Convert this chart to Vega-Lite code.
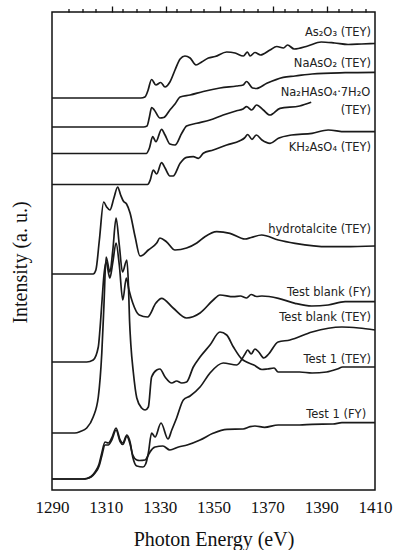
{
  "$schema": "https://vega.github.io/schema/vega-lite/v6.json",
  "width": 323,
  "height": 478,
  "autosize": {"type": "none"},
  "padding": {"left": 52, "top": 12, "right": 18, "bottom": 60},
  "background": "white",
  "config": {
    "view": {"stroke": "#111", "strokeWidth": 1.5},
    "axis": {"grid": false, "domain": false, "tickColor": "#111", "tickWidth": 1.3, "labelColor": "#111", "titleColor": "#111"}
  },
  "datasets": {
    "curves": [
      {"s":"A","e":1290,"v":392},{"s":"A","e":1323,"v":392},{"s":"A","e":1324.5,"v":393},{"s":"A","e":1325.6,"v":399},{"s":"A","e":1327,"v":410.5},{"s":"A","e":1328.6,"v":405},{"s":"A","e":1330.4,"v":407.5},{"s":"A","e":1332,"v":403},{"s":"A","e":1333.8,"v":408},{"s":"A","e":1335.7,"v":420},{"s":"A","e":1337.6,"v":431},{"s":"A","e":1339.4,"v":434},{"s":"A","e":1341.3,"v":432},{"s":"A","e":1343.5,"v":425},{"s":"A","e":1345.6,"v":428},{"s":"A","e":1348.1,"v":432},{"s":"A","e":1350.6,"v":433.5},{"s":"A","e":1354.9,"v":438},{"s":"A","e":1358,"v":437},{"s":"A","e":1361.1,"v":434},{"s":"A","e":1362.6,"v":438},{"s":"A","e":1363.6,"v":434},{"s":"A","e":1365.4,"v":437.5},{"s":"A","e":1367.5,"v":435},{"s":"A","e":1371,"v":440},{"s":"A","e":1373.5,"v":443.5},{"s":"A","e":1376,"v":442},{"s":"A","e":1377.5,"v":445},{"s":"A","e":1380,"v":441},{"s":"A","e":1385,"v":444},{"s":"A","e":1390,"v":448},{"s":"A","e":1395,"v":447},{"s":"A","e":1400,"v":445.5},{"s":"A","e":1405,"v":446},{"s":"A","e":1410,"v":446.5},
      {"s":"B","e":1290,"v":363},{"s":"B","e":1324,"v":363},{"s":"B","e":1325.3,"v":364},{"s":"B","e":1326.2,"v":373},{"s":"B","e":1327,"v":382.5},{"s":"B","e":1328,"v":380},{"s":"B","e":1330.1,"v":372},{"s":"B","e":1331.5,"v":372.5},{"s":"B","e":1333.8,"v":380},{"s":"B","e":1335.7,"v":386},{"s":"B","e":1337.6,"v":393},{"s":"B","e":1341.3,"v":395},{"s":"B","e":1346.2,"v":398.5},{"s":"B","e":1352.4,"v":402},{"s":"B","e":1358.6,"v":404},{"s":"B","e":1361,"v":405},{"s":"B","e":1362.3,"v":408.5},{"s":"B","e":1364.5,"v":402},{"s":"B","e":1366,"v":401.5},{"s":"B","e":1369.8,"v":406.7},{"s":"B","e":1375.9,"v":412.7},{"s":"B","e":1380.3,"v":414},{"s":"B","e":1386.6,"v":416},{"s":"B","e":1398.9,"v":417.3},{"s":"B","e":1410,"v":417.7},
      {"s":"C","e":1290,"v":336.5},{"s":"C","e":1325,"v":336.5},{"s":"C","e":1326.2,"v":342},{"s":"C","e":1327.4,"v":353.3},{"s":"C","e":1328.6,"v":348.3},{"s":"C","e":1330.7,"v":360.7},{"s":"C","e":1332,"v":355},{"s":"C","e":1333.8,"v":346},{"s":"C","e":1335.7,"v":345},{"s":"C","e":1338.2,"v":356.7},{"s":"C","e":1340,"v":364},{"s":"C","e":1343.8,"v":366.7},{"s":"C","e":1348.7,"v":370},{"s":"C","e":1353.6,"v":375},{"s":"C","e":1358.6,"v":379.3},{"s":"C","e":1361,"v":381},{"s":"C","e":1362.3,"v":383.3},{"s":"C","e":1364.2,"v":380},{"s":"C","e":1366,"v":385},{"s":"C","e":1368.5,"v":380},{"s":"C","e":1371,"v":375},{"s":"C","e":1374.7,"v":381.7},{"s":"C","e":1382,"v":384},{"s":"C","e":1386.3,"v":387.7},
      {"s":"D","e":1290,"v":305.5},{"s":"D","e":1325.5,"v":305.5},{"s":"D","e":1326.5,"v":310},{"s":"D","e":1327.6,"v":320},{"s":"D","e":1328.9,"v":316},{"s":"D","e":1330.7,"v":327.3},{"s":"D","e":1332,"v":322},{"s":"D","e":1333.8,"v":314},{"s":"D","e":1335,"v":314},{"s":"D","e":1337.6,"v":326.7},{"s":"D","e":1340,"v":332.7},{"s":"D","e":1342.5,"v":333.3},{"s":"D","e":1344.4,"v":331.7},{"s":"D","e":1346.2,"v":336.7},{"s":"D","e":1349.9,"v":340},{"s":"D","e":1354.9,"v":345},{"s":"D","e":1359.8,"v":349.3},{"s":"D","e":1361.5,"v":352},{"s":"D","e":1362.7,"v":355.5},{"s":"D","e":1364.3,"v":350.7},{"s":"D","e":1365.9,"v":355},{"s":"D","e":1368,"v":350},{"s":"D","e":1371,"v":346.7},{"s":"D","e":1374.1,"v":351.7},{"s":"D","e":1379,"v":355},{"s":"D","e":1386.6,"v":356.7},{"s":"D","e":1392.6,"v":360},{"s":"D","e":1398.9,"v":358.3},{"s":"D","e":1410,"v":358.3},
      {"s":"E","e":1290,"v":216},{"s":"E","e":1305.3,"v":216},{"s":"E","e":1306.3,"v":220},{"s":"E","e":1307.6,"v":250},{"s":"E","e":1309.2,"v":288},{"s":"E","e":1310.3,"v":283},{"s":"E","e":1311.5,"v":280},{"s":"E","e":1313,"v":292},{"s":"E","e":1314.4,"v":303},{"s":"E","e":1315.5,"v":295},{"s":"E","e":1316.5,"v":289},{"s":"E","e":1317.7,"v":286},{"s":"E","e":1319,"v":277},{"s":"E","e":1320.9,"v":253},{"s":"E","e":1322.7,"v":234},{"s":"E","e":1323.5,"v":234.5},{"s":"E","e":1325.8,"v":240},{"s":"E","e":1328.9,"v":247},{"s":"E","e":1330.1,"v":252},{"s":"E","e":1332.5,"v":248.3},{"s":"E","e":1335.7,"v":240},{"s":"E","e":1340,"v":242},{"s":"E","e":1343.8,"v":247},{"s":"E","e":1346.8,"v":253.3},{"s":"E","e":1351.2,"v":258.3},{"s":"E","e":1356.1,"v":256.7},{"s":"E","e":1361.7,"v":251},{"s":"E","e":1364,"v":252.5},{"s":"E","e":1367.9,"v":255},{"s":"E","e":1374.1,"v":250},{"s":"E","e":1380.3,"v":246.7},{"s":"E","e":1392.6,"v":243.3},{"s":"E","e":1398.9,"v":243.3},{"s":"E","e":1410,"v":244},
      {"s":"F","e":1290,"v":128},{"s":"F","e":1302.9,"v":128},{"s":"F","e":1305.3,"v":130},{"s":"F","e":1307.2,"v":143},{"s":"F","e":1307.8,"v":160},{"s":"F","e":1308.6,"v":190},{"s":"F","e":1309.3,"v":215},{"s":"F","e":1310.1,"v":228},{"s":"F","e":1311.5,"v":212},{"s":"F","e":1312.6,"v":228},{"s":"F","e":1313.8,"v":247},{"s":"F","e":1315,"v":225},{"s":"F","e":1316.3,"v":190},{"s":"F","e":1317.6,"v":212},{"s":"F","e":1318.6,"v":200},{"s":"F","e":1320,"v":187},{"s":"F","e":1322.4,"v":175},{"s":"F","e":1325.5,"v":173},{"s":"F","e":1328.6,"v":187},{"s":"F","e":1330.7,"v":191.7},{"s":"F","e":1335,"v":182},{"s":"F","e":1340,"v":172},{"s":"F","e":1345,"v":177},{"s":"F","e":1349.9,"v":190},{"s":"F","e":1352.4,"v":195},{"s":"F","e":1357.4,"v":193.3},{"s":"F","e":1360,"v":194},{"s":"F","e":1362.3,"v":192},{"s":"F","e":1364,"v":195.5},{"s":"F","e":1366,"v":193.5},{"s":"F","e":1368,"v":194},{"s":"F","e":1374.1,"v":191.7},{"s":"F","e":1380.3,"v":186.7},{"s":"F","e":1386.5,"v":184},{"s":"F","e":1392.6,"v":185},{"s":"F","e":1398.9,"v":188.3},{"s":"F","e":1410,"v":188.3},
      {"s":"G","e":1290,"v":57},{"s":"G","e":1298.5,"v":57},{"s":"G","e":1300.5,"v":58.5},{"s":"G","e":1302.9,"v":62},{"s":"G","e":1305.3,"v":73},{"s":"G","e":1307.2,"v":93},{"s":"G","e":1308.5,"v":137},{"s":"G","e":1309.3,"v":185},{"s":"G","e":1310.1,"v":233},{"s":"G","e":1311.5,"v":218},{"s":"G","e":1312.6,"v":240},{"s":"G","e":1313.8,"v":272},{"s":"G","e":1315,"v":245},{"s":"G","e":1316.2,"v":218},{"s":"G","e":1317.8,"v":230},{"s":"G","e":1318.4,"v":205},{"s":"G","e":1318.8,"v":170},{"s":"G","e":1319.3,"v":145},{"s":"G","e":1320.2,"v":118},{"s":"G","e":1321.5,"v":92},{"s":"G","e":1323.3,"v":82},{"s":"G","e":1324.6,"v":80},{"s":"G","e":1325.8,"v":83},{"s":"G","e":1327,"v":113},{"s":"G","e":1328.9,"v":120},{"s":"G","e":1330.1,"v":121},{"s":"G","e":1332,"v":113},{"s":"G","e":1334.5,"v":107},{"s":"G","e":1336.3,"v":109},{"s":"G","e":1338.2,"v":107},{"s":"G","e":1340,"v":108},{"s":"G","e":1342.5,"v":123},{"s":"G","e":1345,"v":133},{"s":"G","e":1348.7,"v":145},{"s":"G","e":1352.4,"v":158},{"s":"G","e":1354.9,"v":155},{"s":"G","e":1357.4,"v":143},{"s":"G","e":1360.5,"v":131},{"s":"G","e":1362.3,"v":128},{"s":"G","e":1365,"v":125},{"s":"G","e":1368,"v":120.5},{"s":"G","e":1370,"v":121},{"s":"G","e":1372.5,"v":122},{"s":"G","e":1374,"v":118},{"s":"G","e":1378,"v":118},{"s":"G","e":1382,"v":118},{"s":"G","e":1386.6,"v":117},{"s":"G","e":1392,"v":118},{"s":"G","e":1396,"v":121},{"s":"G","e":1398,"v":123},{"s":"G","e":1410,"v":123},
      {"s":"H","e":1290,"v":11},{"s":"H","e":1301.5,"v":11},{"s":"H","e":1303,"v":11.5},{"s":"H","e":1304.5,"v":13.5},{"s":"H","e":1306,"v":18},{"s":"H","e":1307.5,"v":26},{"s":"H","e":1308.5,"v":37},{"s":"H","e":1309.7,"v":48},{"s":"H","e":1310.9,"v":47},{"s":"H","e":1312.2,"v":52},{"s":"H","e":1313.8,"v":62},{"s":"H","e":1315.3,"v":50},{"s":"H","e":1316.3,"v":47},{"s":"H","e":1317.8,"v":55},{"s":"H","e":1319,"v":48},{"s":"H","e":1320,"v":33},{"s":"H","e":1321.5,"v":24},{"s":"H","e":1323.8,"v":23},{"s":"H","e":1324.8,"v":26},{"s":"H","e":1325.8,"v":37},{"s":"H","e":1327,"v":57},{"s":"H","e":1328.3,"v":53},{"s":"H","e":1330.5,"v":67},{"s":"H","e":1333.1,"v":51},{"s":"H","e":1334.5,"v":60},{"s":"H","e":1336.3,"v":72},{"s":"H","e":1338.8,"v":90},{"s":"H","e":1341.3,"v":94},{"s":"H","e":1345,"v":103},{"s":"H","e":1348.7,"v":117},{"s":"H","e":1353.6,"v":127},{"s":"H","e":1358.6,"v":125},{"s":"H","e":1361.7,"v":136},{"s":"H","e":1362.7,"v":140},{"s":"H","e":1364,"v":136},{"s":"H","e":1365.4,"v":141},{"s":"H","e":1366.8,"v":138},{"s":"H","e":1368.7,"v":132},{"s":"H","e":1370.5,"v":136},{"s":"H","e":1374,"v":148},{"s":"H","e":1378.4,"v":150},{"s":"H","e":1386.6,"v":158},{"s":"H","e":1397.7,"v":163},{"s":"H","e":1404,"v":162},{"s":"H","e":1410,"v":160},
      {"s":"I","e":1290,"v":11},{"s":"I","e":1301.5,"v":11},{"s":"I","e":1303,"v":11.5},{"s":"I","e":1304.5,"v":13},{"s":"I","e":1306,"v":17},{"s":"I","e":1307.5,"v":24},{"s":"I","e":1308.5,"v":34},{"s":"I","e":1309.7,"v":45},{"s":"I","e":1310.9,"v":45},{"s":"I","e":1312.2,"v":50},{"s":"I","e":1313.8,"v":60},{"s":"I","e":1315.3,"v":48.5},{"s":"I","e":1316.3,"v":45.5},{"s":"I","e":1317.8,"v":53.5},{"s":"I","e":1319,"v":46},{"s":"I","e":1320,"v":35},{"s":"I","e":1321.5,"v":30},{"s":"I","e":1322.5,"v":29.5},{"s":"I","e":1324.6,"v":30},{"s":"I","e":1325.8,"v":35},{"s":"I","e":1326.4,"v":38},{"s":"I","e":1328.3,"v":43},{"s":"I","e":1331.2,"v":44},{"s":"I","e":1333.8,"v":40},{"s":"I","e":1337,"v":43},{"s":"I","e":1340.2,"v":45},{"s":"I","e":1345,"v":50},{"s":"I","e":1349.8,"v":56.7},{"s":"I","e":1355,"v":60.7},{"s":"I","e":1361,"v":61},{"s":"I","e":1363.6,"v":63.3},{"s":"I","e":1365.4,"v":64},{"s":"I","e":1369,"v":62.7},{"s":"I","e":1374,"v":65},{"s":"I","e":1382,"v":65},{"s":"I","e":1386.6,"v":65.7},{"s":"I","e":1394.4,"v":66},{"s":"I","e":1397.7,"v":67.3},{"s":"I","e":1410,"v":67.3}
    ],
    "labels": [
      {"t":"As₂O₃ (TEY)","e":1408.5,"v":457},
      {"t":"NaAsO₂ (TEY)","e":1408.5,"v":426},
      {"t":"Na₂HAsO₄·7H₂O","e":1408.3,"v":397.5},
      {"t":"(TEY)","e":1408.5,"v":379},
      {"t":"KH₂AsO₄ (TEY)","e":1408.5,"v":342},
      {"t":"hydrotalcite (TEY)","e":1408.5,"v":260},
      {"t":"Test blank (FY)","e":1408.5,"v":197},
      {"t":"Test blank (TEY)","e":1408.5,"v":172.5},
      {"t":"Test 1 (TEY)","e":1408.5,"v":130.5},
      {"t":"Test 1 (FY)","e":1406.7,"v":75}
    ]
  },
  "layer": [
    {
      "data": {"name": "curves"},
      "mark": {"type": "line", "color": "#1a1a1a", "strokeWidth": 1.7, "interpolate": "monotone"},
      "encoding": {
        "x": {"field": "e", "type": "quantitative", "scale": {"domain": [1290, 1410], "nice": false, "zero": false},
          "axis": {"orient": "bottom", "values": [1290, 1310, 1330, 1350, 1370, 1390, 1410], "format": "d", "ticks": false, "tickSize": 0, "labelPadding": 9, "labelFont": "Liberation Serif", "labelFontSize": 17, "labelFlush": false,
            "title": "Photon Energy  (eV)", "titleFont": "Liberation Serif", "titleFontSize": 20, "titleFontWeight": "normal", "titleY": 55, "titleBaseline": "alphabetic"}},
        "y": {"field": "v", "type": "quantitative", "scale": {"domain": [0, 478], "nice": false, "zero": false},
          "axis": {"orient": "left", "labels": false, "ticks": false, "tickSize": 0, "title": "Intensity  (a. u.)", "titleFont": "Liberation Serif", "titleFontSize": 20, "titleFontWeight": "normal", "titleAngle": -90, "titleX": -32, "titleY": 250, "titleAlign": "center", "titleBaseline": "middle"}},
        "detail": {"field": "s"}
      }
    },
    {
      "data": {"name": "labels"},
      "mark": {"type": "point", "opacity": 0},
      "encoding": {
        "x": {"field": "e", "type": "quantitative", "scale": {"domain": [1290, 1410], "nice": false, "zero": false},
          "axis": {"orient": "bottom", "values": [1310, 1330, 1350, 1370, 1390], "labels": false, "tickSize": 6, "position": 472, "title": null}}
      }
    },
    {
      "data": {"name": "labels"},
      "mark": {"type": "point", "opacity": 0},
      "encoding": {
        "x": {"field": "e", "type": "quantitative", "scale": {"domain": [1290, 1410], "nice": false, "zero": false},
          "axis": {"orient": "bottom", "values": [1295, 1300, 1305, 1315, 1320, 1325, 1335, 1340, 1345, 1355, 1360, 1365, 1375, 1380, 1385, 1395, 1400, 1405], "labels": false, "tickSize": 3.5, "position": 474.5, "title": null}}
      }
    },
    {
      "data": {"name": "labels"},
      "mark": {"type": "point", "opacity": 0},
      "encoding": {
        "x": {"field": "e", "type": "quantitative", "scale": {"domain": [1290, 1410], "nice": false, "zero": false},
          "axis": {"orient": "top", "values": [1310, 1330, 1350, 1370, 1390], "labels": false, "tickSize": 6, "position": 6, "title": null}}
      }
    },
    {
      "data": {"name": "labels"},
      "mark": {"type": "point", "opacity": 0},
      "encoding": {
        "x": {"field": "e", "type": "quantitative", "scale": {"domain": [1290, 1410], "nice": false, "zero": false},
          "axis": {"orient": "top", "values": [1295, 1300, 1305, 1315, 1320, 1325, 1335, 1340, 1345, 1355, 1360, 1365, 1375, 1380, 1385, 1395, 1400, 1405], "labels": false, "tickSize": 3.5, "position": 3.5, "title": null}}
      }
    },
    {
      "data": {"name": "labels"},
      "mark": {"type": "text", "align": "right", "baseline": "middle", "font": "DejaVu Sans", "fontSize": 11.5, "color": "#222"},
      "encoding": {
        "x": {"field": "e", "type": "quantitative", "scale": {"domain": [1290, 1410], "nice": false, "zero": false}, "axis": null},
        "y": {"field": "v", "type": "quantitative", "scale": {"domain": [0, 478], "nice": false, "zero": false}, "axis": null},
        "text": {"field": "t"}
      }
    }
  ],
  "resolve": {"axis": {"x": "independent", "y": "independent"}}
}
